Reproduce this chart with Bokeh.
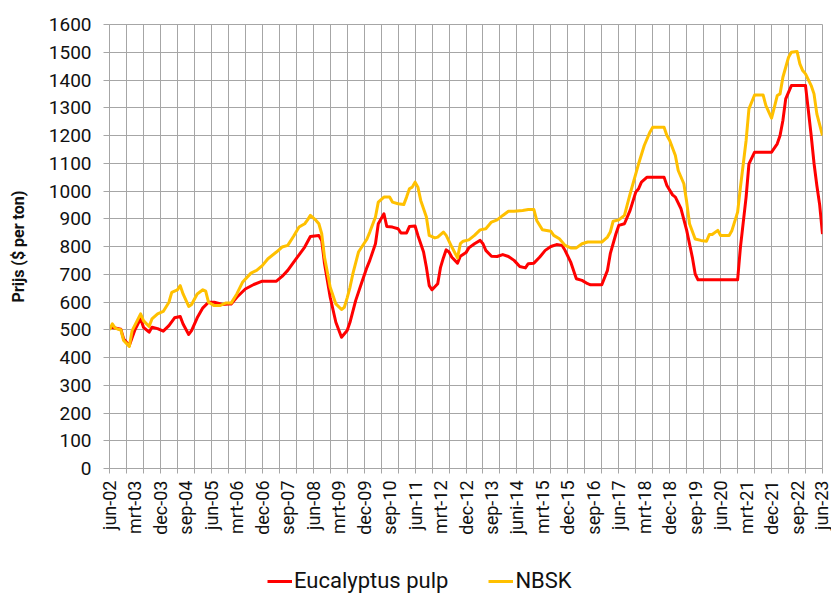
import math
from bokeh.plotting import figure
from bokeh.layouts import column
from bokeh.models import Range1d, FixedTicker, Legend, LegendItem
from bokeh.embed import file_html
from bokeh.resources import INLINE

# month offsets from jun-02 and prices ($ per ton)
euc_month = [0, 2, 4, 5, 7, 9, 11, 12, 14, 15, 17, 19, 21, 23, 25, 26, 28, 29, 31, 33,
             35, 37, 40, 42, 43, 45, 48, 51, 54, 59, 61, 63, 66, 69, 71, 74, 75, 76, 78, 80,
             82, 84, 85, 87, 89, 91, 92, 94, 95, 97, 98, 100, 102, 103, 105, 106, 108, 109, 111, 112,
             113, 114, 116, 117, 118, 119, 120, 121, 123, 124, 126, 127, 129, 131, 132, 133, 135, 137, 139, 141,
             143, 145, 147, 148, 150, 152, 154, 156, 158, 160, 161, 163, 165, 167, 169, 170, 174, 176, 177, 179,
             180, 182, 184, 186, 187, 188, 190, 196, 197, 199, 200, 202, 204, 206, 207, 208, 222, 223, 225, 226,
             228, 234, 236, 237, 238, 239, 241, 246, 247, 248, 249, 250, 251, 252]
euc_price = [510, 506, 502, 467, 443, 500, 540, 509, 491, 509, 504, 495, 515, 543, 548, 521, 483, 497, 543, 579,
             599, 599, 591, 593, 593, 617, 647, 663, 675, 675, 692, 714, 756, 798, 836, 840, 822, 738, 617, 527,
             473, 497, 527, 605, 666, 725, 750, 810, 882, 918, 872, 870, 864, 849, 849, 872, 874, 840, 780, 725,
             659, 644, 666, 725, 759, 788, 780, 761, 740, 765, 778, 795, 810, 822, 810, 786, 765, 764, 771, 764,
             750, 728, 723, 738, 740, 761, 786, 800, 807, 804, 786, 744, 684, 678, 666, 662, 662, 714, 774, 846,
             876, 882, 930, 996, 1008, 1032, 1050, 1050, 1020, 986, 978, 936, 858, 761, 701, 680, 680, 798, 978, 1098,
             1140, 1140, 1170, 1200, 1254, 1332, 1380, 1380, 1290, 1200, 1100, 1020, 950, 845]

nbsk_month = [0, 1, 2, 3, 4, 5, 7, 8, 11, 12, 14, 15, 17, 19, 21, 22, 24, 25, 26, 28,
              29, 31, 33, 34, 35, 37, 39, 41, 43, 45, 47, 50, 52, 54, 56, 59, 61, 63, 65, 67,
              69, 70, 71, 73, 74, 75, 76, 78, 80, 82, 83, 84, 85, 86, 88, 91, 92, 94, 95, 97,
              99, 100, 102, 104, 105, 106, 107, 108, 109, 110, 112, 113, 115, 116, 118, 119, 121, 123, 124, 125,
              127, 129, 131, 133, 135, 137, 139, 141, 143, 146, 148, 150, 151, 153, 156, 157, 159, 161, 163, 165,
              167, 169, 174, 176, 177, 178, 180, 182, 184, 186, 187, 189, 191, 192, 196, 197, 198, 200, 201, 203,
              204, 205, 207, 209, 211, 212, 213, 215, 216, 219, 220, 222, 223, 225, 226, 228, 231, 232, 234, 235,
              236, 237, 238, 240, 241, 243, 244, 245, 246, 248, 249, 250, 252]
nbsk_price = [500, 521, 506, 502, 500, 461, 440, 497, 557, 533, 512, 539, 557, 566, 599, 635, 644, 659, 629, 584,
              591, 629, 644, 639, 599, 587, 587, 596, 596, 629, 671, 704, 714, 731, 756, 780, 798, 804, 836, 870,
              882, 896, 912, 894, 882, 846, 761, 653, 593, 573, 581, 615, 653, 701, 780, 827, 852, 906, 960, 978,
              978, 960, 954, 951, 978, 1008, 1014, 1032, 1014, 966, 906, 840, 831, 834, 852, 840, 798, 759, 810, 819,
              824, 840, 860, 864, 888, 896, 912, 927, 927, 930, 933, 933, 894, 860, 855, 840, 828, 804, 795, 795,
              810, 816, 816, 834, 852, 891, 896, 912, 990, 1062, 1098, 1164, 1212, 1230, 1230, 1200, 1182, 1128, 1074, 1026,
              960, 882, 827, 822, 819, 843, 843, 858, 840, 840, 858, 924, 1014, 1182, 1296, 1346, 1346, 1308, 1263, 1302,
              1344, 1350, 1410, 1482, 1500, 1503, 1458, 1434, 1422, 1380, 1350, 1278, 1200]

series_names = ["Eucalyptus pulp", "NBSK"]
series_colors = ["#FF0000", "#FFC000"]

x_tick_months = list(range(0, 253, 9))
x_tick_labels = ["jun-02", "mrt-03", "dec-03", "sep-04", "jun-05", "mrt-06", "dec-06", "sep-07",
                 "jun-08", "mrt-09", "dec-09", "sep-10", "jun-11", "mrt-12", "dec-12", "sep-13",
                 "juni-14", "mrt-15", "dec-15", "sep-16", "jun-17", "mrt-18", "dec-18", "sep-19",
                 "jun-20", "mrt-21", "dec-21", "sep-22", "jun-23"]
grid_months = list(range(0, 253, 6))
y_ticks = list(range(0, 1601, 100))

FONT = "Roboto"
GRID = "#A6A6A6"

p = figure(width=831, height=555, output_backend="svg", toolbar_location=None,
           x_range=Range1d(0, 252), y_range=Range1d(0, 1600),
           min_border_left=109, min_border_right=9, min_border_top=24, min_border_bottom=87)
p.outline_line_color = GRID
p.outline_line_width = 1
p.background_fill_color = "white"

# axes
xa = p.xaxis[0]
xa.ticker = FixedTicker(ticks=x_tick_months, minor_ticks=grid_months)
xa.major_label_overrides = {m: l for m, l in zip(x_tick_months, x_tick_labels)}
xa.major_label_orientation = math.pi / 2
xa.major_tick_out = 0
xa.major_tick_in = 0
xa.minor_tick_out = 5
xa.minor_tick_in = 0
xa.minor_tick_line_color = GRID
xa.axis_line_color = GRID
xa.major_label_standoff = 7
xa.major_label_text_font = FONT
xa.major_label_text_font_size = "18px"
xa.major_label_text_color = "#111111"

ya = p.yaxis[0]
ya.ticker = FixedTicker(ticks=y_ticks)
ya.minor_tick_line_color = None
ya.major_tick_out = 6
ya.major_tick_in = 0
ya.major_tick_line_color = GRID
ya.axis_line_color = GRID
ya.major_label_standoff = 12
ya.major_label_text_font = FONT
ya.major_label_text_font_size = "19px"
ya.major_label_text_color = "#111111"
ya.axis_label = "Prijs ($ per ton)"
ya.axis_label_text_font = FONT
ya.axis_label_text_font_style = "bold"
ya.axis_label_text_font_size = "16px"
ya.axis_label_text_color = "#111111"
ya.axis_label_standoff = 18

p.xgrid.ticker = FixedTicker(ticks=grid_months)
p.xgrid.grid_line_color = GRID
p.ygrid.ticker = FixedTicker(ticks=y_ticks)
p.ygrid.grid_line_color = GRID

series = [(euc_month, euc_price), (nbsk_month, nbsk_price)]
for (xs, ys), col in zip(series, series_colors):
    p.line(xs, ys, line_color=col, line_width=3, line_join="round")

# legend strip below the chart (separate figure so it is not clipped);
# its series lie outside its tiny ranges, so only the legend shows
lf = figure(width=831, height=39, output_backend="svg", toolbar_location=None,
            x_range=Range1d(0, 1), y_range=Range1d(0, 1),
            x_axis_location=None, y_axis_location=None,
            min_border_left=0, min_border_right=0, min_border_top=0, min_border_bottom=0)
lf.outline_line_color = None
lf.xgrid.visible = False
lf.ygrid.visible = False
items = []
for name, (xs, ys), col in zip(series_names, series, series_colors):
    r = lf.line(xs, ys, line_color=col, line_width=3)
    items.append(LegendItem(label=name, renderers=[r]))

legend = Legend(items=items, location=(158, 1), orientation="horizontal",
                glyph_width=25, glyph_height=22, label_height=22,
                label_standoff=2, spacing=40, padding=0, margin=0,
                border_line_color=None, background_fill_alpha=0,
                label_text_font=FONT, label_text_font_size="22px", label_text_color="#111111")
lf.add_layout(legend, "center")

layout = column(p, lf, spacing=0)
open("out.html", "w").write(file_html(layout, INLINE))
